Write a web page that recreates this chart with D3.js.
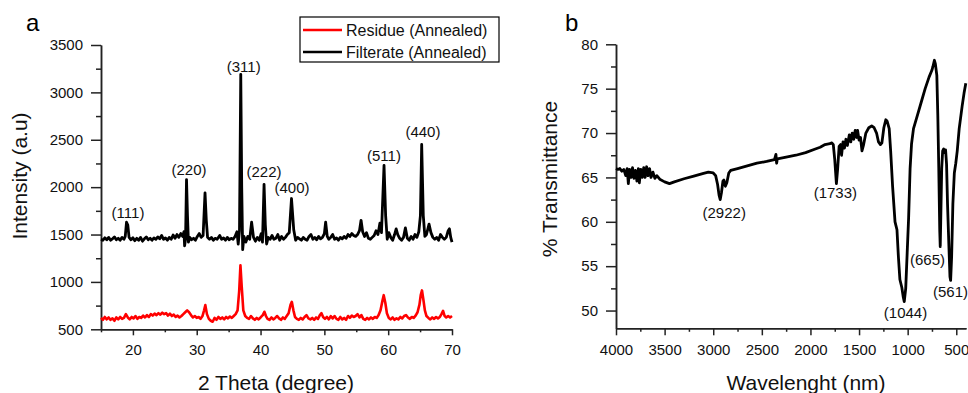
<!DOCTYPE html>
<html>
<head>
<meta charset="utf-8">
<script src="https://cdn.jsdelivr.net/npm/d3@7"></script>
<style>
  body { margin: 0; background: #fff; }
  svg { display: block; font-family: "Liberation Sans", Arial, Helvetica, sans-serif; }
  .axis path, .axis line { stroke: #222; stroke-width: 1.5; }
  .axis text { font-size: 15px; fill: #111; }
</style>
</head>
<body>
<svg id="chart" width="968" height="393"></svg>
<script>
// XRD (panel a): [2theta, intensity]
const filtrate = [
  [15.0,1450],[15.3,1440],[15.6,1465],[15.9,1445],[16.2,1470],[16.5,1440],[16.8,1455],[17.1,1475],[17.4,1445],[17.7,1460],
  [18.0,1440],[18.3,1470],[18.6,1450],[18.8,1480],[19.0,1630],[19.2,1600],[19.4,1470],[19.7,1445],[20.0,1465],[20.3,1435],
  [20.6,1460],[20.9,1440],[21.2,1470],[21.5,1430],[21.8,1455],[22.1,1475],[22.4,1445],[22.7,1460],[23.0,1440],[23.3,1465],
  [23.6,1450],[23.9,1475],[24.2,1455],[24.5,1490],[24.8,1450],[25.1,1465],[25.4,1440],[25.7,1470],[26.0,1450],[26.3,1495],
  [26.6,1460],[26.9,1500],[27.2,1470],[27.5,1510],[27.8,1480],[28.0,1530],[28.1,1380],[28.25,1450],[28.4,2080],[28.55,1700],
  [28.7,1420],[28.9,1470],[29.2,1445],[29.5,1460],[29.8,1440],[30.1,1480],[30.4,1510],[30.7,1470],[31.0,1490],[31.3,1940],
  [31.5,1650],[31.7,1470],[32.0,1450],[32.3,1470],[32.6,1440],[32.9,1460],[33.2,1450],[33.6,1490],[33.9,1450],[34.2,1465],
  [34.5,1440],[34.8,1470],[35.1,1445],[35.4,1460],[35.7,1450],[36.0,1480],[36.3,1530],[36.5,1400],[36.7,1540],[36.9,3190],
  [37.05,2000],[37.2,1340],[37.4,1480],[37.7,1420],[38.0,1480],[38.3,1450],[38.6,1630],[38.9,1470],[39.2,1430],[39.5,1470],
  [39.8,1440],[40.1,1510],[40.3,1420],[40.55,2030],[40.75,1600],[40.95,1400],[41.2,1470],[41.5,1450],[41.8,1490],[42.1,1450],
  [42.4,1460],[42.7,1500],[43.0,1440],[43.3,1480],[43.6,1450],[43.9,1470],[44.2,1500],[44.5,1520],[44.85,1880],[45.2,1550],
  [45.5,1440],[45.8,1470],[46.1,1455],[46.4,1440],[46.7,1470],[47.0,1450],[47.3,1440],[47.6,1480],[47.9,1500],[48.2,1450],
  [48.5,1470],[48.8,1445],[49.1,1480],[49.4,1455],[49.7,1470],[50.0,1510],[50.2,1630],[50.45,1480],[50.7,1450],[51.0,1470],
  [51.3,1500],[51.6,1450],[51.9,1465],[52.2,1440],[52.5,1470],[52.8,1455],[53.1,1480],[53.4,1460],[53.7,1500],[54.0,1480],
  [54.3,1510],[54.6,1490],[54.9,1480],[55.2,1500],[55.5,1540],[55.75,1650],[56.0,1530],[56.3,1480],[56.6,1520],[56.9,1460],
  [57.2,1450],[57.5,1470],[57.8,1490],[58.1,1540],[58.4,1500],[58.7,1620],[58.95,1520],[59.35,2230],[59.6,1700],[59.85,1450],
  [60.1,1520],[60.4,1470],[60.7,1440],[61.0,1500],[61.25,1560],[61.5,1500],[61.8,1460],[62.1,1440],[62.4,1470],[62.7,1570],
  [63.0,1460],[63.3,1440],[63.6,1480],[63.9,1450],[64.2,1500],[64.5,1470],[64.8,1530],[65.05,1700],[65.25,2450],[65.5,1700],
  [65.75,1480],[66.0,1500],[66.4,1610],[66.7,1520],[67.0,1470],[67.3,1450],[67.6,1470],[67.9,1440],[68.2,1500],[68.5,1470],
  [68.8,1450],[69.1,1470],[69.4,1540],[69.6,1560],[69.8,1470],[70.0,1420]
];

const residue = [
  [15.0,620],[15.3,600],[15.6,630],[15.9,605],[16.2,625],[16.5,600],[16.8,615],[17.1,590],[17.4,625],[17.7,605],
  [18.0,630],[18.3,610],[18.6,620],[18.9,660],[19.2,625],[19.5,605],[19.8,630],[20.1,615],[20.4,640],[20.7,610],
  [21.0,630],[21.3,620],[21.6,645],[21.9,625],[22.2,650],[22.5,630],[22.8,660],[23.1,645],[23.4,665],[23.7,650],
  [24.0,670],[24.3,655],[24.6,675],[24.9,660],[25.2,670],[25.5,645],[25.8,665],[26.1,640],[26.4,655],[26.7,630],
  [27.0,645],[27.3,625],[27.6,640],[27.9,660],[28.2,680],[28.5,700],[28.8,680],[29.1,650],[29.4,625],[29.7,640],
  [30.0,620],[30.3,630],[30.6,610],[30.9,640],[31.15,700],[31.35,755],[31.6,660],[31.9,610],[32.2,590],[32.5,580],
  [32.8,620],[33.1,600],[33.4,630],[33.7,610],[34.0,625],[34.3,605],[34.6,630],[34.9,615],[35.2,635],[35.5,620],
  [35.8,640],[36.1,660],[36.4,700],[36.65,900],[36.85,1175],[37.05,950],[37.3,700],[37.6,640],[37.9,620],[38.2,610],
  [38.5,640],[38.8,615],[39.1,600],[39.4,620],[39.7,605],[40.0,625],[40.35,650],[40.6,685],[40.85,640],[41.1,610],
  [41.4,600],[41.7,625],[42.0,605],[42.3,620],[42.6,640],[42.9,615],[43.2,600],[43.5,625],[43.8,610],[44.1,640],
  [44.4,670],[44.7,760],[44.9,790],[45.15,700],[45.4,630],[45.7,610],[46.0,600],[46.3,620],[46.6,605],[46.9,630],
  [47.2,650],[47.5,615],[47.8,605],[48.1,620],[48.4,600],[48.7,625],[49.0,610],[49.3,650],[49.55,670],[49.8,630],
  [50.1,610],[50.4,630],[50.7,605],[51.0,640],[51.3,615],[51.6,640],[51.9,610],[52.2,600],[52.5,630],[52.8,605],
  [53.1,620],[53.4,600],[53.7,640],[54.0,620],[54.3,645],[54.6,630],[54.9,640],[55.2,660],[55.5,625],[55.8,650],
  [56.1,610],[56.4,600],[56.7,620],[57.0,605],[57.3,625],[57.6,610],[57.9,630],[58.2,620],[58.5,650],[58.8,700],
  [59.1,800],[59.3,860],[59.55,780],[59.8,670],[60.1,620],[60.4,605],[60.7,625],[61.0,600],[61.3,615],[61.6,605],
  [61.9,630],[62.2,615],[62.5,640],[62.8,650],[63.1,625],[63.4,610],[63.7,630],[64.0,620],[64.3,645],[64.6,680],
  [64.9,760],[65.1,860],[65.3,910],[65.5,820],[65.75,700],[66.0,640],[66.3,620],[66.6,605],[66.9,625],[67.2,610],
  [67.5,630],[67.8,615],[68.1,630],[68.35,660],[68.6,695],[68.85,640],[69.1,625],[69.4,640],[69.7,625],[70.0,640]
];

const xrdLabels = [
  ["(111)",19.23,1673],["(220)",28.79,2127],["(311)",37.36,3215],["(222)",40.54,2106],
  ["(400)",44.93,1937],["(511)",59.34,2275],["(440)",65.45,2528]
];
const xrdXTicks = [20,30,40,50,60,70];
const xrdXMinor = [15,25,35,45,55,65];
const xrdYTicks = [500,1000,1500,2000,2500,3000,3500];
const xrdYMinor = [750,1250,1750,2250,2750,3250];

// FTIR (panel b): [wavenumber, % transmittance]
const ftir = [
  [4000,66.0],[3980,65.9],[3960,66.0],[3940,65.7],[3920,65.9],[3900,65.2],[3885,66.0],[3873,64.3],[3860,65.9],[3845,65.0],
  [3830,66.1],[3815,64.9],[3800,65.8],[3785,64.6],[3770,66.0],[3760,64.4],[3745,65.9],[3730,65.0],[3715,66.1],[3700,65.0],
  [3685,66.2],[3670,65.2],[3655,66.0],[3640,65.0],[3620,65.6],[3600,64.9],[3580,65.2],[3550,64.8],[3500,64.5],[3450,64.3],
  [3400,64.5],[3300,64.85],[3200,65.15],[3100,65.45],[3050,65.6],[3000,65.5],[2975,65.2],[2955,64.2],[2940,63.0],[2928,62.5],
  [2915,63.3],[2900,64.6],[2890,64.7],[2875,64.0],[2860,64.4],[2840,65.5],[2820,65.8],[2750,66.0],[2650,66.3],[2550,66.6],
  [2450,66.8],[2370,67.0],[2355,67.6],[2348,66.6],[2340,67.1],[2250,67.3],[2150,67.5],[2050,67.8],[1950,68.2],[1900,68.4],
  [1850,68.7],[1800,68.8],[1780,68.9],[1765,68.7],[1750,67.0],[1733,64.3],[1720,66.0],[1705,68.5],[1690,68.7],[1680,67.5],
  [1665,69.0],[1650,68.3],[1635,69.3],[1620,68.6],[1600,69.8],[1585,69.0],[1570,70.0],[1555,69.3],[1540,70.3],[1525,69.5],
  [1515,70.3],[1500,69.2],[1485,69.5],[1470,68.0],[1455,68.6],[1430,70.0],[1400,70.6],[1370,70.8],[1345,70.6],[1320,70.0],
  [1300,69.0],[1280,68.7],[1265,68.9],[1245,70.6],[1225,71.5],[1210,71.3],[1190,70.5],[1175,68.0],[1155,64.0],[1130,60.0],
  [1110,59.1],[1095,56.0],[1080,53.5],[1060,52.6],[1045,51.5],[1035,51.0],[1020,52.5],[1005,56.5],[990,60.5],[975,66.0],
  [960,68.8],[940,70.5],[900,72.0],[860,73.5],[820,75.0],[780,76.3],[750,77.1],[740,77.5],[725,78.2],[715,77.8],
  [700,76.5],[690,72.0],[680,66.0],[670,59.0],[665,57.2],[660,60.0],[650,66.0],[640,68.0],[630,68.2],[620,67.8],
  [610,68.1],[600,66.5],[590,62.0],[575,57.0],[565,53.8],[558,53.4],[548,56.0],[535,62.0],[520,65.5],[505,66.6],
  [490,68.0],[470,70.5],[440,73.0],[420,74.5],[402,75.6]
];
const ftirLabels = [
  ["(2922)",2887,60.44],["(1733)",1744,62.69],["(665)",796,55.15],["(1044)",1022,49.18],["(561)",559,51.54]
];
const ftirXTicks = [4000,3500,3000,2500,2000,1500,1000,500];
const ftirXMinor = [3750,3250,2750,2250,1750,1250,750];
const ftirYTicks = [50,55,60,65,70,75,80];
const ftirYMinor = [52.5,57.5,62.5,67.5,72.5,77.5];

const svg = d3.select("#chart");
const fmt = d3.format("d");

function drawAxes(x, y, xt, xm, yt, ym, sizes) {
  const bottom = y.range()[0], left = x.range()[0];
  svg.append("g").attr("class", "axis")
    .attr("transform", "translate(0," + bottom + ")")
    .call(d3.axisBottom(x).tickValues(xm).tickFormat("").tickSize(sizes.xm).tickSizeOuter(0));
  svg.append("g").attr("class", "axis")
    .attr("transform", "translate(0," + bottom + ")")
    .call(d3.axisBottom(x).tickValues(xt).tickFormat(fmt).tickSize(sizes.xM).tickSizeOuter(0).tickPadding(9));
  svg.append("g").attr("class", "axis")
    .attr("transform", "translate(" + left + ",0)")
    .call(d3.axisLeft(y).tickValues(ym).tickFormat("").tickSize(5).tickSizeOuter(0));
  svg.append("g").attr("class", "axis")
    .attr("transform", "translate(" + left + ",0)")
    .call(d3.axisLeft(y).tickValues(yt).tickFormat(fmt).tickSize(10).tickSizeOuter(0).tickPadding(8));
}

function addLabels(x, y, labels) {
  svg.append("g").selectAll("text").data(labels).join("text")
    .attr("x", d => x(d[1]))
    .attr("y", d => y(d[2]))
    .attr("text-anchor", "middle")
    .attr("font-size", 15)
    .attr("fill", "#111")
    .text(d => d[0]);
}

// ---- panel a
const xa = d3.scaleLinear().domain([15, 70]).range([101, 452]);
const ya = d3.scaleLinear().domain([500, 3500]).range([329.3, 45]);
drawAxes(xa, ya, xrdXTicks, xrdXMinor, xrdYTicks, xrdYMinor, { xM: 6, xm: 3 });

const lineA = d3.line().x(d => xa(d[0])).y(d => ya(d[1]));
svg.append("path").datum(residue).attr("d", lineA)
  .attr("fill", "none").attr("stroke", "#ff0000").attr("stroke-width", 2.6).attr("stroke-linejoin", "round");
svg.append("path").datum(filtrate).attr("d", lineA)
  .attr("fill", "none").attr("stroke", "#000").attr("stroke-width", 2.8).attr("stroke-linejoin", "round");
addLabels(xa, ya, xrdLabels);

svg.append("text").attr("x", 26).attr("y", 31).attr("font-size", 24).text("a");
svg.append("text").attr("x", 276).attr("y", 390).attr("text-anchor", "middle")
  .attr("font-size", 21).attr("fill", "#111").text("2 Theta (degree)");
svg.append("text").attr("transform", "translate(27,176) rotate(-90)").attr("text-anchor", "middle")
  .attr("font-size", 21).attr("fill", "#111").text("Intensity (a.u)");

// legend
const legend = svg.append("g");
legend.append("rect").attr("x", 300).attr("y", 17).attr("width", 199).attr("height", 45)
  .attr("fill", "#fff").attr("stroke", "#000").attr("stroke-width", 1.2);
const legendItems = [["Residue (Annealed)", "#ff0000"], ["Filterate (Annealed)", "#000"]];
legendItems.forEach((d, i) => {
  const cy = 30 + i * 22;
  legend.append("line").attr("x1", 303).attr("x2", 342).attr("y1", cy).attr("y2", cy)
    .attr("stroke", d[1]).attr("stroke-width", 2.6);
  legend.append("text").attr("x", 346).attr("y", cy + 5.5).attr("font-size", 16).attr("fill", "#111").text(d[0]);
});

// ---- panel b
const xb = d3.scaleLinear().domain([4000, 400]).range([616, 966]);
const yb = d3.scaleLinear().domain([48, 80]).range([328.3, 44.3]);
drawAxes(xb, yb, ftirXTicks, ftirXMinor, ftirYTicks, ftirYMinor, { xM: 7, xm: 3.5 });

const lineB = d3.line().x(d => xb(d[0])).y(d => yb(d[1]));
svg.append("path").datum(ftir).attr("d", lineB)
  .attr("fill", "none").attr("stroke", "#000").attr("stroke-width", 2.8).attr("stroke-linejoin", "round");
addLabels(xb, yb, ftirLabels);

svg.append("text").attr("x", 565).attr("y", 31).attr("font-size", 24).text("b");
svg.append("text").attr("x", 806).attr("y", 390).attr("text-anchor", "middle")
  .attr("font-size", 21).attr("fill", "#111").text("Wavelenght (nm)");
svg.append("text").attr("transform", "translate(557,179) rotate(-90)").attr("text-anchor", "middle")
  .attr("font-size", 21).attr("fill", "#111").text("% Transmittance");
</script>
</body>
</html>
